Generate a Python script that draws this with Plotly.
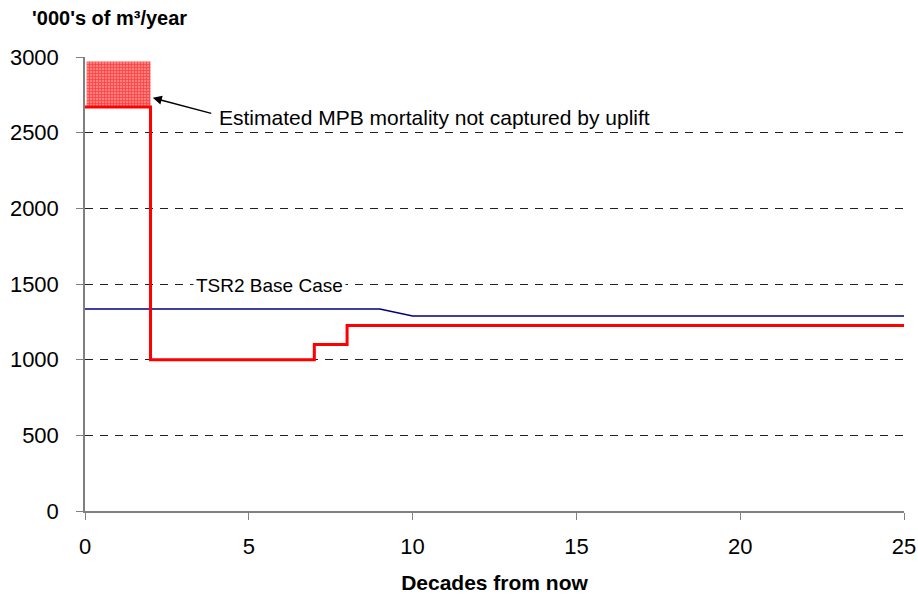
import plotly.graph_objects as go

# Harvest projection data ('000s of m3/year by decade)
decades_mpb = [0, 2, 7, 8, 25]
harvest_mpb = [2670, 1000, 1100, 1225, 1225]

decades_base = [0, 9, 10, 25]
harvest_base = [1335, 1335, 1288, 1288]

# Unrecovered MPB mortality block (decades 0-2)
uplift_x = [0, 2]
uplift_low = 2670
uplift_high = 2970

x_ticks = [0, 5, 10, 15, 20, 25]
y_ticks = [0, 500, 1000, 1500, 2000, 2500, 3000]

FONT = "Liberation Sans, Arial, sans-serif"

# plot-area geometry, used to place paper-referenced text
W, H = 918, 596
ML, MR, MT, MB = 85, 14, 57, 85
PW, PH = W - ML - MR, H - MT - MB

fig = go.Figure()

fig.add_trace(go.Scatter(
    x=[uplift_x[0] + 0.05, uplift_x[1], uplift_x[1], uplift_x[0] + 0.05, uplift_x[0] + 0.05],
    y=[uplift_high, uplift_high, uplift_low, uplift_low, uplift_high],
    mode="lines", line=dict(width=0), fill="toself",
    fillcolor="rgba(255,90,90,1)",
    fillpattern=dict(shape="+", fgcolor="#ff0000", bgcolor="#ff8080",
                     size=3, solidity=0.45),
    hoverinfo="skip", showlegend=False,
))

fig.add_trace(go.Scatter(
    x=decades_base, y=harvest_base, mode="lines",
    line=dict(color="#000080", width=1.5), showlegend=False,
))

fig.add_trace(go.Scatter(
    x=decades_mpb, y=harvest_mpb, mode="lines", line_shape="hv",
    line=dict(color="#ff0000", width=3), showlegend=False,
))

# arrow pointing at the shaded block
fig.add_annotation(
    x=2.07, y=2730, xref="x", yref="y",
    ax=3.9, ay=2625, axref="x", ayref="y",
    text="", showarrow=True, arrowhead=2, arrowsize=1.2, arrowwidth=1.5,
    arrowcolor="black",
)
fig.add_annotation(
    x=4.03, y=2597, xref="x", yref="y", xanchor="left", yanchor="middle",
    text="Estimated MPB mortality not captured by uplift", showarrow=False,
    font=dict(family=FONT, size=21, color="black"),
)
fig.add_annotation(
    x=5.64, y=1493, xref="x", yref="y", text="TSR2 Base Case",
    showarrow=False, bgcolor="white", borderpad=2,
    font=dict(family=FONT, size=19, color="black"),
)
fig.add_annotation(
    x=(30 - ML) / PW, y=(H - MB - 18) / PH, xref="paper", yref="paper",
    xanchor="left", yanchor="middle",
    text="<b>'000's of m³/year</b>", showarrow=False,
    font=dict(family=FONT, size=20, color="black"),
)

fig.update_xaxes(
    range=[0, 25], tickvals=x_ticks, ticks="outside", ticklen=7,
    tickcolor="#808080", showline=True, linecolor="#808080", linewidth=1.5,
    showgrid=False, zeroline=False, automargin=False, ticklabelstandoff=8,
    tickfont=dict(family=FONT, size=22, color="black"),
    title=dict(text="<b>Decades from now</b>", standoff=17,
               font=dict(family=FONT, size=21, color="black")),
)
fig.update_yaxes(
    range=[0, 3000], tickvals=y_ticks, ticks="outside", ticklen=7,
    tickcolor="#808080", showline=True, linecolor="#808080", linewidth=1.5,
    showgrid=True, gridcolor="#202020", griddash="8px,7px", gridwidth=1,
    zeroline=False, automargin=False, ticklabelstandoff=13,
    tickfont=dict(family=FONT, size=22, color="black"),
)

fig.update_layout(
    width=W, height=H,
    margin=dict(l=ML, r=MR, t=MT, b=MB),
    plot_bgcolor="white", paper_bgcolor="white",
    showlegend=False,
)

fig.write_html("out.html")
